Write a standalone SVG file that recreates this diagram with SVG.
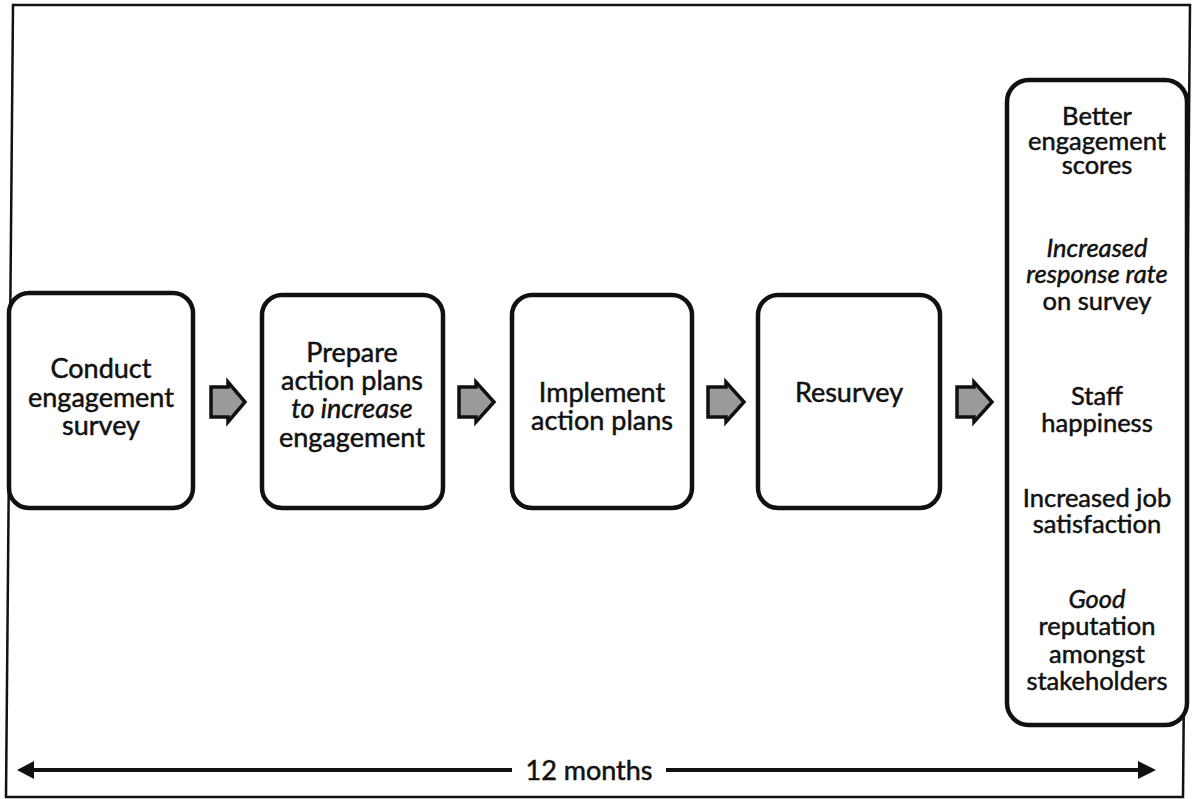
<svg xmlns="http://www.w3.org/2000/svg" width="1194" height="799" viewBox="0 0 1194 799">
  <defs>
    <style>
      .frame { fill: none; stroke: #111; stroke-width: 2.5; }
      .box { fill: #fff; stroke: #111; stroke-width: 4.5; }
      .lbl { font-family: Lato, "Liberation Sans", sans-serif; font-size: 27px; fill: #111; stroke: #111; stroke-width: 0.5; text-anchor: middle; }
      .out { font-size: 25.5px; }
      .it { font-style: italic; }
      .step { fill: #9a9a9a; stroke: #111; stroke-width: 3.5; stroke-linejoin: miter; }
      .span { stroke: #111; stroke-width: 4; fill: none; }
      .head { fill: #111; }
    </style>
  </defs>

  <!-- outer frame -->
  <polygon class="frame" points="13,5 1190,5 1183,797 6,797"/>

  <!-- process steps -->
  <g id="conduct">
    <rect class="box" x="9" y="293" width="184" height="215" rx="20"/>
    <text class="lbl" x="101" y="378">Conduct</text>
    <text class="lbl" x="101" y="407">engagement</text>
    <text class="lbl" x="101" y="435">survey</text>
  </g>

  <g id="prepare">
    <rect class="box" x="262" y="295" width="181" height="213" rx="20"/>
    <text class="lbl" x="352" y="362">Prepare</text>
    <text class="lbl" x="352" y="390">action plans</text>
    <text class="lbl it" x="352" y="418">to increase</text>
    <text class="lbl" x="352" y="447">engagement</text>
  </g>

  <g id="implement">
    <rect class="box" x="512" y="295" width="180" height="213" rx="20"/>
    <text class="lbl" x="602" y="402">Implement</text>
    <text class="lbl" x="602" y="430">action plans</text>
  </g>

  <g id="resurvey">
    <rect class="box" x="758" y="295" width="182" height="213" rx="20"/>
    <text class="lbl" x="849" y="402">Resurvey</text>
  </g>

  <!-- outcomes -->
  <g id="outcomes">
    <rect class="box" x="1007" y="80" width="180" height="645" rx="22"/>
    <text class="lbl out" x="1097" y="125">Better</text>
    <text class="lbl out" x="1097" y="150">engagement</text>
    <text class="lbl out" x="1097" y="174">scores</text>
    <text class="lbl out it" x="1097" y="257">Increased</text>
    <text class="lbl out it" x="1097" y="283">response rate</text>
    <text class="lbl out" x="1097" y="310">on survey</text>
    <text class="lbl out" x="1097" y="405">Staff</text>
    <text class="lbl out" x="1097" y="432">happiness</text>
    <text class="lbl out" x="1097" y="507">Increased job</text>
    <text class="lbl out" x="1097" y="533">satisfaction</text>
    <text class="lbl out it" x="1097" y="608">Good</text>
    <text class="lbl out" x="1097" y="635">reputation</text>
    <text class="lbl out" x="1097" y="663">amongst</text>
    <text class="lbl out" x="1097" y="690">stakeholders</text>
  </g>

  <!-- connectors: block arrows between steps, and the 12-month span -->
  <g id="connectors">
    <path class="step" d="M211,387 H228 V382 L245,402 L228,422 V417 H211 Z"/>
    <path class="step" d="M459,387 H476 V382 L494,402 L476,422 V417 H459 Z"/>
    <path class="step" d="M708,387 H726 V382 L744,402 L726,422 V417 H708 Z"/>
    <path class="step" d="M957,387 H974 V382 L992,402 L974,422 V417 H957 Z"/>

    <line class="span" x1="30" y1="770" x2="512" y2="770"/>
    <polygon class="head" points="17,770 34,761 34,779"/>
    <line class="span" x1="666" y1="770" x2="1140" y2="770"/>
    <polygon class="head" points="1156,770 1138,761 1138,779"/>
    <text class="lbl" x="589" y="780">12 months</text>
  </g>
</svg>
